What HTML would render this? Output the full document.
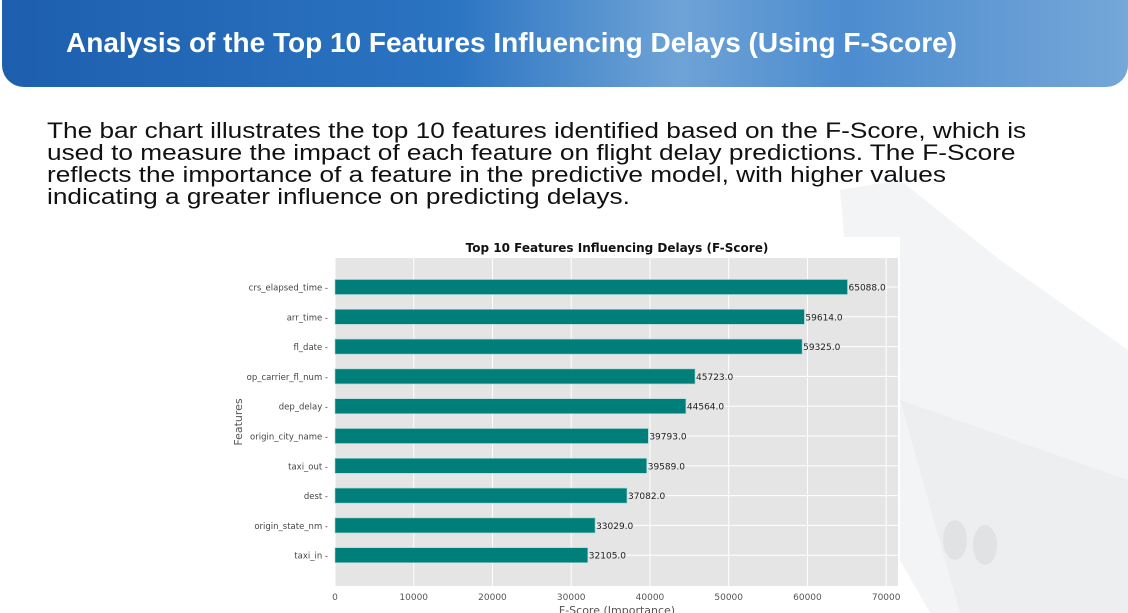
<!DOCTYPE html>
<html><head><meta charset="utf-8"><style>
body{margin:0;width:1128px;height:613px;overflow:hidden;background:#fff;font-family:"Liberation Sans",sans-serif;position:relative}
#hdr{position:absolute;left:2px;top:0;width:1126px;height:87px;border-radius:0 0 22px 22px;background:linear-gradient(90deg,#1d5fae 0%,#2b74c2 40%,#6ea3d6 60%,#4c8ccf 75%,#75a7d8 100%)}
#hdr h1{position:absolute;left:64px;top:27px;margin:0;color:#fff;font-size:28px;font-weight:bold;letter-spacing:0px;white-space:nowrap}
#desc{position:absolute;left:47px;top:120px;font-size:22.5px;line-height:22px;color:#111;margin:0;white-space:nowrap;transform:scaleX(1.165);transform-origin:0 0}
svg{position:absolute;left:0;top:0}
</style></head><body>
<svg width="1128" height="613">
<polygon points="840,190 900,180 1000,260 1128,350 1128,613 930,613 900,560 880,420 850,300" fill="#f3f4f5"/>
<polygon points="900,400 1128,480 1128,613 960,613" fill="#eceef0"/>
<ellipse cx="955" cy="540" rx="12" ry="20" fill="#e0e2e4"/><ellipse cx="985" cy="545" rx="12" ry="20" fill="#e0e2e4"/>
</svg>
<div id="hdr"><h1>Analysis of the Top 10 Features Influencing Delays (Using F-Score)</h1></div>
<p id="desc">The bar chart illustrates the top 10 features identified based on the F-Score, which is<br>used to measure the impact of each feature on flight delay predictions. The F-Score<br>reflects the importance of a feature in the predictive model, with higher values<br>indicating a greater influence on predicting delays.</p>
<svg id="chart" width="1128" height="613"></svg>
<script>
const categories=["crs_elapsed_time","arr_time","fl_date","op_carrier_fl_num","dep_delay","origin_city_name","taxi_out","dest","origin_state_nm","taxi_in"];
const values=[65088,59614,59325,45723,44564,39793,39589,37082,33029,32105];
const xTicks=[0,10000,20000,30000,40000,50000,60000,70000];
const NS="http://www.w3.org/2000/svg";
const svg=document.getElementById('chart');
const x0=335,x1=898,xMax=71500,y0=258,y1=586;
const X=v=>x0+(v/xMax)*(x1-x0);
const Y=i=>287+i*29.8;
function mk(t,a,p){const e=document.createElementNS(NS,t);for(const k in a)e.setAttribute(k,a[k]);(p||svg).appendChild(e);return e;}
let bg=mk('rect',{x:230,y:237,width:670,height:376,fill:'#fff'});


let pa=mk('rect',{x:x0,y:y0,width:x1-x0,height:y1-y0,fill:'#e5e5e5'});


let tt=mk('text',{x:617,y:252,'text-anchor':'middle','font-size':12,'font-weight':'bold',fill:'#111','font-family':'DejaVu Sans, sans-serif'});tt.textContent='Top 10 Features Influencing Delays (F-Score)';


xTicks.forEach(t=>{
 let g=mk('line',{x1:X(t),x2:X(t),y1:y0,y2:y1,stroke:'#fff','stroke-width':1});
 
 
 let l=mk('text',{x:X(t),y:600,'text-anchor':'middle','font-size':9,fill:'#555','font-family':'DejaVu Sans, sans-serif'});l.textContent=t;
 
 
});
categories.forEach((c,i)=>{
 let g=mk('line',{x1:x0,x2:x1,y1:Y(i),y2:Y(i),stroke:'#fff','stroke-width':1});
 
 
 let b=mk('rect',{x:x0,y:Y(i)-7.5,width:X(values[i])-x0,height:15,fill:'#007f7a',stroke:'#9fd9d5','stroke-width':0.6});
 
 
 let l=mk('text',{x:328,y:Y(i)+3.5,'text-anchor':'end','font-size':8.5,fill:'#444','font-family':'DejaVu Sans, sans-serif'});l.textContent=c+' -';
 
 
 let v=mk('text',{x:X(values[i])+1,y:Y(i)+3.5,'font-size':9,fill:'#222','font-family':'DejaVu Sans, sans-serif'});v.textContent=values[i].toFixed(1);
 
 
});
let yl=mk('text',{x:242,y:422,'text-anchor':'middle','font-size':11,fill:'#555',transform:'rotate(-90 242 422)','font-family':'DejaVu Sans, sans-serif'});yl.textContent='Features';


let xl=mk('text',{x:617,y:614,'text-anchor':'middle','font-size':11,fill:'#555','font-family':'DejaVu Sans, sans-serif'});xl.textContent='F-Score (Importance)';


</script>
</body></html>
